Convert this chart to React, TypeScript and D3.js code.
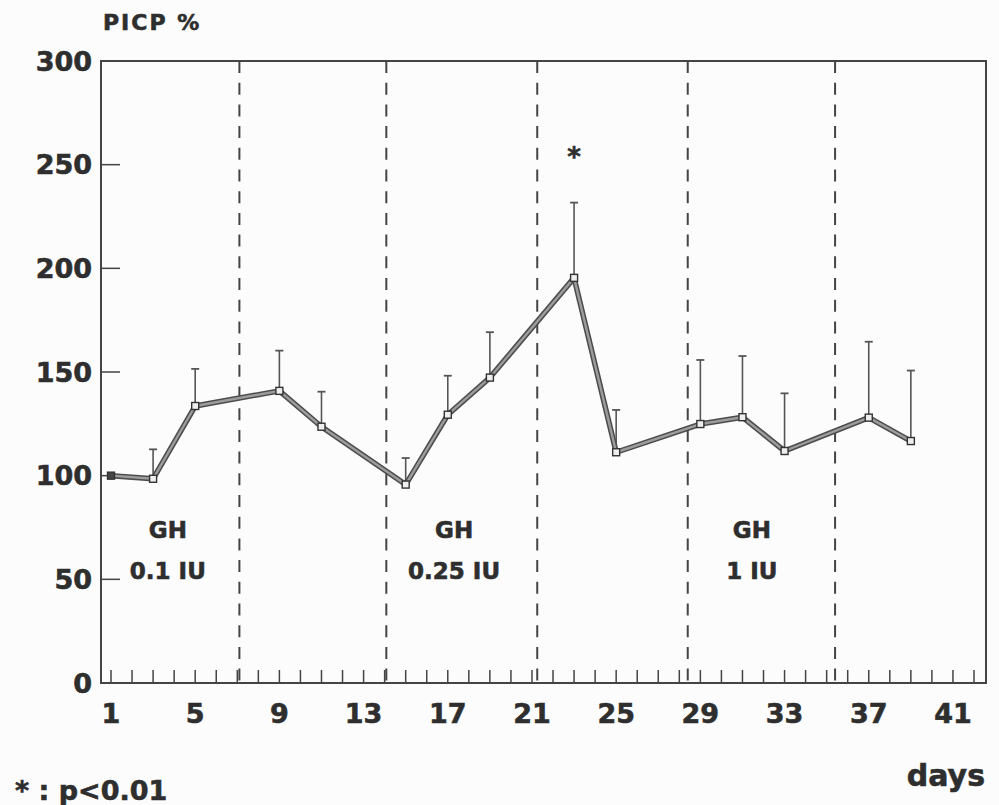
import React from "react";
import * as d3 from "d3";

// ---- data ----
const days = [1, 3, 5, 9, 11, 15, 17, 19, 23, 25, 29, 31, 33, 37, 39];
const picp = [100, 98.5, 133.6, 140.9, 123.6, 95.7, 129.4, 147.3, 195.4, 111.3, 124.9, 128.2, 111.9, 128, 116.7];
const errTop = [null, 112.7, 151.5, 160.3, 140.5, 108.5, 148.2, 169.2, 231.7, 131.7, 155.8, 157.7, 139.7, 164.6, 150.7];
const periodBounds = [7.1, 14.08, 21.25, 28.4, 35.4];
const xTickLabels = [1, 5, 9, 13, 17, 21, 25, 29, 33, 37, 41];
const yTickValues = [0, 50, 100, 150, 200, 250, 300];
const doseLabels = [
  { day: 3.7, line1: "GH", line2: "0.1 IU" },
  { day: 17.3, line1: "GH", line2: "0.25 IU" },
  { day: 31.45, line1: "GH", line2: "1 IU" },
];
const significantDays = [23];

const W = 999;
const H = 805;
const left = 101;
const right = 986;
const top = 61;
const bottom = 683;

const FONT = "'DejaVu Sans', 'Liberation Sans', Arial, sans-serif";
const INK = "#2e2e2e";
const AXIS = "#444";
const bold = { fontWeight: "bold" as const, fill: INK, stroke: INK, strokeWidth: 0.6 };

export default function App() {
  const x = d3.scaleLinear().domain([1, 42]).range([111, 974]);
  const y = d3.scaleLinear().domain([0, 300]).range([bottom, top]);
  const minorDays = d3.range(1, 43);
  const pts = days.map((d, i) => ({ d, v: picp[i], e: errTop[i] }));
  const line = d3
    .line<{ d: number; v: number }>()
    .x((p) => x(p.d))
    .y((p) => y(p.v));
  const path = line(pts) || "";

  return (
    <svg
      width={W}
      height={H}
      style={{ position: "absolute", left: 0, top: 0, background: "#fcfcfc" }}
      fontFamily={FONT}
    >
      <rect x={0} y={0} width={W} height={H} fill="#fcfcfc" />
      {/* dashed period boundaries */}
      {periodBounds.map((b, i) => (
        <line
          key={"db" + i}
          x1={x(b)}
          x2={x(b)}
          y1={top}
          y2={bottom}
          stroke={AXIS}
          strokeWidth={2}
          strokeDasharray="12 9.7"
        />
      ))}
      {/* frame */}
      <rect
        x={left}
        y={top}
        width={right - left}
        height={bottom - top}
        fill="none"
        stroke={AXIS}
        strokeWidth={2}
      />
      {/* y ticks */}
      {yTickValues.map((v) => (
        <g key={"yt" + v}>
          {v > 0 && v < 300 && (
            <line x1={left} x2={left + 19} y1={y(v)} y2={y(v)} stroke={AXIS} strokeWidth={1.5} />
          )}
          <text x={92} y={y(v)} dy="0.36em" textAnchor="end" fontSize={27} {...bold}>
            {v}
          </text>
        </g>
      ))}
      {/* x minor ticks */}
      {minorDays.map((d) => (
        <line
          key={"xt" + d}
          x1={x(d)}
          x2={x(d)}
          y1={bottom}
          y2={bottom - 13}
          stroke={AXIS}
          strokeWidth={1.5}
        />
      ))}
      {xTickLabels.map((d) => (
        <text key={"xl" + d} x={x(d)} y={723} textAnchor="middle" fontSize={27} {...bold}>
          {d}
        </text>
      ))}
      {/* error bars */}
      {pts
        .filter((p) => p.e != null)
        .map((p) => (
          <g key={"eb" + p.d}>
            <line
              x1={x(p.d)}
              x2={x(p.d)}
              y1={y(p.v)}
              y2={y(p.e as number)}
              stroke="#555"
              strokeWidth={1.6}
            />
            <line
              x1={x(p.d) - 4}
              x2={x(p.d) + 4}
              y1={y(p.e as number)}
              y2={y(p.e as number)}
              stroke="#555"
              strokeWidth={1.8}
            />
          </g>
        ))}
      {/* data line */}
      <path d={path} fill="none" stroke="#4d4d4d" strokeWidth={5.5} strokeLinejoin="round" />
      <path d={path} fill="none" stroke="#9c9c9c" strokeWidth={2.4} strokeLinejoin="round" />
      {/* markers */}
      {pts.map((p, i) => (
        <rect
          key={"m" + p.d}
          x={x(p.d) - 3.5}
          y={y(p.v) - 3.5}
          width={7}
          height={7}
          fill={i === 0 ? "#444" : "#eee"}
          stroke="#333"
          strokeWidth={1.4}
        />
      ))}
      {/* significance */}
      {significantDays.map((d) => (
        <text key={"s" + d} x={x(d)} y={166} textAnchor="middle" fontSize={26} {...bold}>
          *
        </text>
      ))}
      {/* dose labels */}
      {doseLabels.map((l) => (
        <g key={l.line2}>
          <text x={x(l.day)} y={538} textAnchor="middle" fontSize={23} {...bold}>
            {l.line1}
          </text>
          <text x={x(l.day)} y={579} textAnchor="middle" fontSize={23} {...bold}>
            {l.line2}
          </text>
        </g>
      ))}
      {/* titles */}
      <text x={103} y={30} fontSize={22} letterSpacing={2} {...bold}>
        PICP %
      </text>
      <text x={985} y={786} textAnchor="end" fontSize={30} {...bold}>
        days
      </text>
      <text x={15} y={800} fontSize={27} {...bold}>
        * : p&lt;0.01
      </text>
    </svg>
  );
}
